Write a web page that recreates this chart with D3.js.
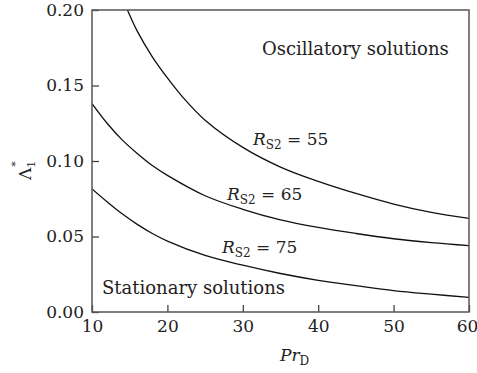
<!DOCTYPE html>
<html>
<head>
<meta charset="utf-8">
<script src="https://cdn.jsdelivr.net/npm/d3@7"></script>
<style>
body { margin: 0; background: #fff; }
text { font-family: "DejaVu Serif", "DejaVu Sans", serif; fill: #222; }
</style>
</head>
<body>
<script>
// values
var prVals = [10, 12, 14, 16, 18, 20, 25, 30, 35, 40, 45, 50, 55, 60];
var pr55 = [14.7, 16, 18, 20, 22, 25, 30, 35, 40, 45, 50, 55, 60];
var rs55 = [0.200, 0.186, 0.169, 0.155, 0.1425, 0.127, 0.109, 0.096, 0.0865, 0.0785, 0.0715, 0.066, 0.062];
var rs65 = [0.138, 0.125, 0.114, 0.105, 0.097, 0.0905, 0.077, 0.068, 0.061, 0.056, 0.052, 0.0485, 0.046, 0.044];
var rs75 = [0.0815, 0.073, 0.065, 0.058, 0.052, 0.047, 0.0375, 0.031, 0.0255, 0.021, 0.0175, 0.0142, 0.0118, 0.0097];
var xTicks = [10, 20, 30, 40, 50, 60];
var yTicks = [0, 0.05, 0.10, 0.15, 0.20];

var width = 377;
var height = 302;
var margin = {top: 10, left: 92};

var x = d3.scaleLinear().domain([10, 60]).range([0, width]);
var y = d3.scaleLinear().domain([0, 0.2]).range([height, 0]);

var svg = d3.select("body")
	.append("svg")
		.attr("width", 477)
		.attr("height", 373);

var g = svg.append("g")
	.attr("transform", "translate(" + margin.left + "," + margin.top + ")");

g.append("clipPath")
	.attr("id", "clip")
	.append("rect")
		.attr("width", width)
		.attr("height", height);

var line = d3.line()
	.x((d) => x(d[0]))
	.y((d) => y(d[1]))
	.curve(d3.curveCatmullRom.alpha(0.5));

var series = [
	d3.zip(pr55, rs55),
	d3.zip(prVals, rs65),
	d3.zip(prVals, rs75)
];

g.selectAll(".curve")
	.data(series)
	.enter()
	.append("path")
	.attr("class", "curve")
	.attr("clip-path", "url(#clip)")
	.attr("d", line)
	.attr("fill", "none")
	.attr("stroke", "#111")
	.attr("stroke-width", 1.3);

var bottomAxis = d3.axisBottom(x).tickValues(xTicks).tickSize(-7).tickPadding(6);
var gx = g.append("g")
	.attr("transform", "translate(0," + height + ")")
	.call(bottomAxis);

var leftAxis = d3.axisLeft(y).tickValues(yTicks).tickSize(-7).tickPadding(8)
	.tickFormat(d3.format(".2f"));
var gy = g.append("g").call(leftAxis);

[gx, gy].forEach((a) => {
	a.attr("font-family", null);
	a.select(".domain").remove();
	a.selectAll("line").attr("stroke", "#444").attr("stroke-width", 1.3);
	a.selectAll("text")
		.style("font-size", "17px")
		.attr("fill", "#222");
});
gx.selectAll("text").attr("dy", "0.85em");
gx.selectAll(".tick").filter((d) => d === 60).select("text").attr("dx", -2);

g.append("rect")
	.attr("width", width)
	.attr("height", height)
	.attr("fill", "none")
	.attr("stroke", "#555")
	.attr("stroke-width", 1.5);

g.append("text")
	.attr("x", 170)
	.attr("y", 45)
	.attr("font-size", "18px")
	.text("Oscillatory solutions");

g.append("text")
	.attr("x", 10)
	.attr("y", 284)
	.attr("font-size", "18px")
	.text("Stationary solutions");

// curve labels
var labels = [
	{name: "55", x: 161, y: 135},
	{name: "65", x: 135, y: 190},
	{name: "75", x: 130, y: 243}
];
labels.forEach((l) => {
	var t = g.append("text")
		.attr("x", l.x)
		.attr("y", l.y)
		.attr("font-size", "17px");
	t.append("tspan").attr("font-style", "italic").text("R");
	t.append("tspan").attr("font-size", "12px").attr("dy", 4).text("S2");
	t.append("tspan").attr("dy", -4).text(" = " + l.name);
});

var xl = svg.append("text")
	.attr("x", 280)
	.attr("y", 361)
	.attr("font-size", "17px");
xl.append("tspan").attr("font-style", "italic").text("Pr");
xl.append("tspan").attr("font-size", "12px").attr("dy", 4).text("D");

var yl = svg.append("text")
	.attr("transform", "translate(31,180) rotate(-90)")
	.attr("font-size", "17px");
yl.append("tspan").text("Λ");
yl.append("tspan").attr("font-size", "11px").attr("dy", 4).text("1");
yl.append("tspan").attr("font-size", "11px").attr("dx", -6).attr("dy", -16).text("*");
</script>
</body>
</html>
